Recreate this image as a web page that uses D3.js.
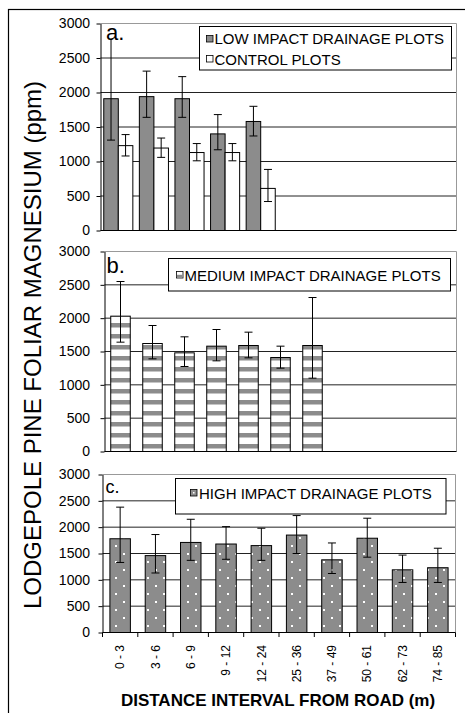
<!DOCTYPE html>
<html><head><meta charset="utf-8">
<script src="https://cdn.jsdelivr.net/npm/d3@7"></script>
<style>
html,body{margin:0;padding:0;background:#fff;}
svg{display:block;font-family:"Liberation Sans",Arial,sans-serif;}
</style></head>
<body>
<svg id="chart" width="465" height="713"></svg>
<script>
// ---------- DATA ----------
const categories = ["0 - 3","3 - 6","6 - 9","9 - 12","12 - 24","25 - 36","37 - 49","50 - 61","62 - 73","74 - 85"];
const yTicks = [0,500,1000,1500,2000,2500,3000];
const panelBSlots = 11;

const lowImpact       = [1910,1940,1910,1400,1580];
const lowImpactErrLo  = [1310,1640,1640,1170,1370];
const lowImpactErrHi  = [2800,2310,2230,1680,1800];
const control         = [1230,1195,1130,1130,610];
const controlErrLo    = [1080,1060,1010,1010,420];
const controlErrHi    = [1390,1340,1260,1260,885];

const mediumImpact      = [2030,1620,1480,1580,1590,1410,1590];
const mediumImpactErrLo = [1640,1390,1275,1360,1405,1250,1100];
const mediumImpactErrHi = [2550,1890,1720,1830,1790,1580,2310];

const highImpact      = [1780,1460,1710,1680,1650,1850,1380,1790,1190,1230];
const highImpactErrLo = [1330,1130,1370,1390,1370,1500,1120,1430,950,950];
const highImpactErrHi = [2380,1860,2150,2010,1980,2220,1700,2170,1470,1600];

const legendA = ["LOW IMPACT DRAINAGE PLOTS","CONTROL PLOTS"];
const legendB = ["MEDIUM IMPACT DRAINAGE PLOTS"];
const legendC = ["HIGH IMPACT DRAINAGE PLOTS"];
const yTitle = "LODGEPOLE PINE FOLIAR MAGNESIUM (ppm)";
const xTitle = "DISTANCE INTERVAL FROM ROAD (m)";

// ---------- DRAWING ----------
const svg = d3.select("#chart");
const GREY = "#8c8c8c";
const FONT = "'Liberation Sans',Arial,sans-serif";
const defs = svg.append("defs");

const stripe = defs.append("pattern").attr("id","stripes")
  .attr("patternUnits","userSpaceOnUse").attr("width",8).attr("height",11);
stripe.append("rect").attr("width",8).attr("height",11).attr("fill","#fff");
stripe.append("rect").attr("y",4).attr("width",8).attr("height",4.5).attr("fill",GREY);

const dots = defs.append("pattern").attr("id","dots")
  .attr("patternUnits","userSpaceOnUse").attr("width",16).attr("height",16);
dots.append("rect").attr("width",16).attr("height",16).attr("fill",GREY);
dots.append("rect").attr("x",3).attr("y",1).attr("width",2).attr("height",2).attr("fill","#fff");
dots.append("rect").attr("x",11).attr("y",9).attr("width",2).attr("height",2).attr("fill","#fff");

// outer frame
svg.append("rect").attr("x",8.5).attr("y",9.5).attr("width",520).attr("height",720)
  .attr("fill","none").attr("stroke","#000").attr("stroke-width",1.2);

function frame(x0,x1,yTop,yBot){
  const y = d3.scaleLinear().domain([0,3000]).range([yBot,yTop]);
  const g = svg.append("g");
  g.selectAll("line.grid").data(yTicks.filter(t=>t>0 && t<3000)).join("line")
    .attr("x1",x0).attr("x2",x1).attr("y1",d=>y(d)).attr("y2",d=>y(d))
    .attr("stroke","#222").attr("stroke-width",1);
  g.append("path").attr("d",`M${x0},${yTop}H${x1}V${yBot}`)
    .attr("fill","none").attr("stroke","#999").attr("stroke-width",1);
  return {y,g};
}

function yAxis(x0,y){
  const ax = d3.axisLeft(y).tickValues(yTicks).tickSize(4).tickSizeOuter(0)
    .tickPadding(x0-4-90).tickFormat(d3.format("d"));
  const a = svg.append("g").attr("transform",`translate(${x0},0)`).call(ax)
    .attr("font-family",FONT).attr("font-size","14px");
  a.selectAll("text").attr("fill","#000");
  a.selectAll("line,path").attr("stroke","#000");
}

function xAxisLine(x0,x1,yBot){
  svg.append("line").attr("x1",x0).attr("x2",x1).attr("y1",yBot).attr("y2",yBot)
    .attr("stroke","#000");
}

function errBars(g, xc, lo, hi, y, cap){
  lo.forEach((l,i)=>{
    const cx = xc(i), h = hi[i];
    g.append("line").attr("x1",cx).attr("x2",cx).attr("y1",y(l)).attr("y2",y(h)).attr("stroke","#000");
    g.append("line").attr("x1",cx-cap).attr("x2",cx+cap).attr("y1",y(l)).attr("y2",y(l)).attr("stroke","#000");
    g.append("line").attr("x1",cx-cap).attr("x2",cx+cap).attr("y1",y(h)).attr("y2",y(h)).attr("stroke","#000");
  });
}

function panelLabel(txt,x,yb,size){
  svg.append("text").attr("x",x).attr("y",yb).attr("font-size",size+"px").text(txt);
}

function legendBox(x,y,w,h){
  svg.append("rect").attr("x",x).attr("y",y).attr("width",w).attr("height",h)
    .attr("fill","#fff").attr("stroke","#000");
}

// ===== Panel a =====
{
  const x0=100.5,x1=456.5,yTop=23.5,yBot=230.5;
  const {y,g} = frame(x0,x1,yTop,yBot);
  const xb = d3.scaleBand().domain(categories).range([x0,x1]).paddingInner(0.183).paddingOuter(0.0915);
  const xs = d3.scaleBand().domain(["low","control"]).range([0,xb.bandwidth()]);
  const cats = categories.slice(0,lowImpact.length);
  g.selectAll("rect.low").data(lowImpact).join("rect")
    .attr("x",(d,i)=>xb(cats[i])+xs("low")).attr("width",xs.bandwidth())
    .attr("y",d=>y(d)).attr("height",d=>yBot-y(d))
    .attr("fill",GREY).attr("stroke","#000");
  g.selectAll("rect.ctl").data(control).join("rect")
    .attr("x",(d,i)=>xb(cats[i])+xs("control")).attr("width",xs.bandwidth())
    .attr("y",d=>y(d)).attr("height",d=>yBot-y(d))
    .attr("fill","#fff").attr("stroke","#000");
  errBars(g, i=>xb(cats[i])+xs("low")+xs.bandwidth()/2, lowImpactErrLo, lowImpactErrHi, y, 4);
  errBars(g, i=>xb(cats[i])+xs("control")+xs.bandwidth()/2, controlErrLo, controlErrHi, y, 4);
  yAxis(x0,y); xAxisLine(x0,x1,yBot);
  svg.append("rect").attr("x",105).attr("y",24.5).attr("width",22).attr("height",15).attr("fill","#fff");
  panelLabel("a.",106,40,22);
  legendBox(199.5,26.5,252,43.5);
  [GREY,"#fff"].forEach((c,i)=>{
    svg.append("rect").attr("x",206.5).attr("y",35.5+i*20).attr("width",6.5).attr("height",6.5)
      .attr("fill",c).attr("stroke","#000").attr("stroke-width",0.8);
    svg.append("text").attr("x",214.5).attr("y",44.3+i*20.2).attr("font-size","15px").text(legendA[i]);
  });
}

// ===== Panel b =====
{
  const x0=104.5,x1=456.5,yTop=251.5,yBot=451.5;
  const {y,g} = frame(x0,x1,yTop,yBot);
  const xb = d3.scaleBand().domain(d3.range(panelBSlots)).range([x0,x1]).paddingInner(0.39).paddingOuter(0.195);
  g.selectAll("rect.med").data(mediumImpact).join("rect")
    .attr("x",(d,i)=>xb(i)).attr("width",xb.bandwidth())
    .attr("y",d=>y(d)).attr("height",d=>yBot-y(d))
    .attr("fill","url(#stripes)").attr("stroke","#000");
  errBars(g, i=>xb(i)+xb.bandwidth()/2, mediumImpactErrLo, mediumImpactErrHi, y, 4);
  yAxis(x0,y); xAxisLine(x0,x1,yBot);
  panelLabel("b.",106.5,273.3,22);
  legendBox(168.5,258.5,282,32.5);
  svg.append("rect").attr("x",176.5).attr("y",271.5).attr("width",6.5).attr("height",6.5)
    .attr("fill","#fff").attr("stroke","#000").attr("stroke-width",0.8);
  svg.append("rect").attr("x",176.9).attr("y",274.8).attr("width",5.7).attr("height",2.8).attr("fill",GREY);
  svg.append("text").attr("x",184.5).attr("y",280.5).attr("font-size","15px").text(legendB[0]);
}

// ===== Panel c =====
{
  const x0=102.5,x1=455.5,yTop=474.5,yBot=632.5;
  const {y,g} = frame(x0,x1,yTop,yBot);
  const xb = d3.scaleBand().domain(categories).range([x0,x1]).paddingInner(0.42).paddingOuter(0.21);
  g.selectAll("rect.high").data(highImpact).join("rect")
    .attr("x",(d,i)=>xb(categories[i])).attr("width",xb.bandwidth())
    .attr("y",d=>y(d)).attr("height",d=>yBot-y(d))
    .attr("fill","url(#dots)").attr("stroke","#000");
  errBars(g, i=>xb(categories[i])+xb.bandwidth()/2, highImpactErrLo, highImpactErrHi, y, 4);
  yAxis(x0,y); xAxisLine(x0,x1,yBot);
  const step = xb.step();
  svg.selectAll("line.xt").data(d3.range(categories.length+1)).join("line")
    .attr("x1",i=>x0+i*step).attr("x2",i=>x0+i*step).attr("y1",yBot).attr("y2",yBot+4.5)
    .attr("stroke","#000");
  svg.selectAll("text.xl").data(categories).join("text")
    .attr("transform",d=>`translate(${xb(d)+xb.bandwidth()/2},645) rotate(-90)`)
    .attr("text-anchor","end").attr("dy","0.35em").attr("font-size","12px").text(d=>d);
  panelLabel("c.",105.5,493.3,18);
  legendBox(175.5,478.5,270.5,35.5);
  svg.append("rect").attr("x",190.5).attr("y",489.5).attr("width",6.5).attr("height",6.5)
    .attr("fill",GREY).attr("stroke","#000").attr("stroke-width",0.8);
  svg.append("rect").attr("x",193).attr("y",492).attr("width",1.5).attr("height",1.5).attr("fill","#fff");
  svg.append("text").attr("x",199).attr("y",498.5).attr("font-size","15px").text(legendC[0]);
}

// titles
svg.append("text").attr("transform","translate(40.5,345) rotate(-90)")
  .attr("text-anchor","middle").attr("font-size","24px").text(yTitle);
svg.append("text").attr("x",278).attr("y",706).attr("text-anchor","middle")
  .attr("font-size","17px").attr("font-weight","bold").text(xTitle);
</script>
</body></html>
